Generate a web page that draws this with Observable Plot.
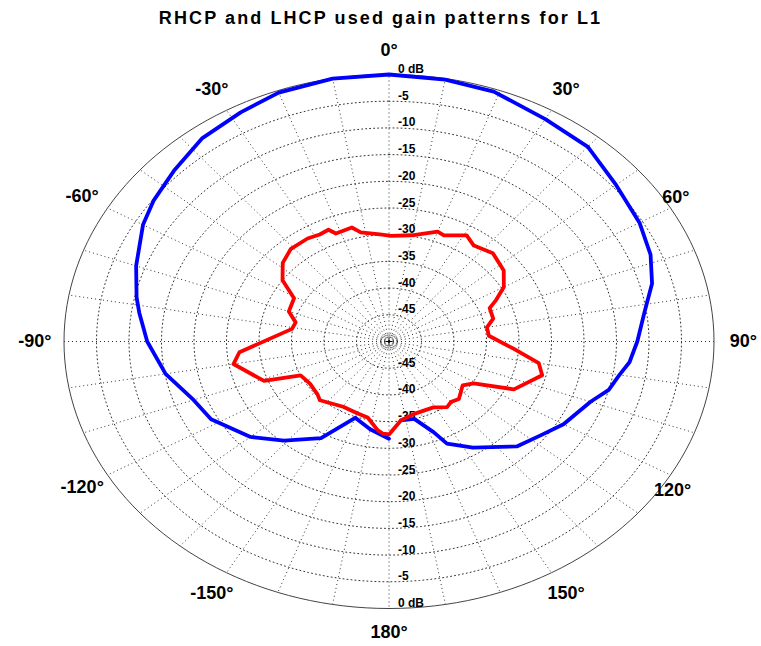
<!DOCTYPE html>
<html><head><meta charset="utf-8">
<script src="https://cdn.jsdelivr.net/npm/d3@7"></script>
<script src="https://cdn.jsdelivr.net/npm/@observablehq/plot@0.6"></script>
<style>
body{margin:0;background:#fff;}
#title{width:761px;height:34px;text-align:center;font:bold 18px Arial,"Liberation Sans",sans-serif;line-height:36px;letter-spacing:2.1px;color:#000;}
g[aria-label="angle labels"] text{letter-spacing:1.4px;}
</style></head><body>
<div id="title"></div>
<div id="chart"></div>
<script>
const chartTitle = "RHCP and LHCP used gain patterns for L1";
const ringDb = [0, -5, -10, -15, -20, -25, -30, -35, -40, -45];
const dbMin = -50;
const spokeAngles = [0,10,20,30,40,50,60,70,80,90,100,110,120,130,140,150,160,170,180,190,200,210,220,230,240,250,260,270,280,290,300,310,320,330,340,350];
const angleTicks = [0, 30, 60, 90, 120, 150, 180, -150, -120, -90, -60, -30];

// RHCP (blue)
const rhcpAngle = [-180,-170,-160,-150,-139,-130,-118,-110,-100,-90,-82,-78,-70,-60,-54,-46,-37,-28,-20,-10,0,10,19,30,40,50,60,68,75,82,90,96,100,105,110,120,127,135,147,155,158,165,173];
const rhcpDb = [-31.8,-33.3,-34.8,-29.1,-25.4,-22.2,-19.0,-18.0,-15.1,-12.8,-11.2,-10.3,-8.6,-6.3,-5.2,-4.0,-2.3,-1.4,-0.4,0,0,-0.2,-0.5,-1.9,-2.4,-4.4,-5.5,-6.6,-8.1,-10.3,-11.8,-12.8,-14.0,-15.0,-17.0,-19.0,-20.8,-22.2,-26.3,-28.9,-31.7,-35.0,-35.1];

// LHCP (red)
const lhcpAngle = [-180,-177,-174,-167,-160,-150,-136,-132,-123,-115,-111,-100,-95,-81,-76,-70,-61,-55,-48,-41,-33,-28,-24,-22,-15,-12,-4,1,10,20,23,31,36,44,53,60,65,68,75,80,86,94,100,105,115,121,126,135,140,144,151,164,173,179,180];
const lhcpDb = [-32.6,-32.7,-33.3,-35.4,-35.7,-35.9,-34.7,-35.2,-35.5,-35.0,-29.4,-25.7,-26.9,-34.9,-35.2,-33.6,-33.3,-30.0,-28.0,-27.0,-27.0,-27.3,-27.1,-28.2,-27.9,-29.1,-29.9,-30.2,-29.8,-28.1,-28.4,-26.8,-27.8,-27.0,-27.9,-29.6,-31.9,-33.3,-33.4,-34.7,-34.6,-30.8,-26.6,-25.6,-28.8,-34.8,-36.0,-34.8,-35.2,-34.8,-35.9,-35.9,-35.1,-33.0,-32.6];

document.getElementById("title").textContent = chartTitle;

const rad = a => a * Math.PI / 180;
const rho = db => (db - dbMin) / (0 - dbMin);
const px = (a, r) => r * Math.sin(rad(a));
const py = (a, r) => r * Math.cos(rad(a));
const labelR = a => (a === 60 || a === 120) ? 1.035 : 1.09;
const labelA = a => a === 60 ? 58.5 : a === 120 ? 122.5 : a;

const rhcp = rhcpAngle.map((a, i) => ({a, db: rhcpDb[i]}));
const lhcp = lhcpAngle.map((a, i) => ({a, db: lhcpDb[i]}));
const circleA = d3.range(0, 361, 2);
const innerRings = ringDb.filter(d => d < 0).flatMap(db => circleA.map(a => ({db, a})));
const outerRing = circleA.map(a => ({db: 0, a}));
const centerRing = circleA.map(a => ({db: dbMin + 1.2, a}));
const dbLabels = ringDb.flatMap(db => [{db, side: 1}, {db, side: -1}]);

const font = "Arial, 'Liberation Sans', sans-serif";
const plot = Plot.plot({
  width: 761, height: 612, margin: 0,
  x: {domain: [-1, 1], range: [63.5, 713.5], axis: null},
  y: {domain: [-1, 1], range: [574, 40], axis: null},
  style: {background: "#fff", overflow: "visible", fontFamily: font},
  marks: [
    Plot.link(spokeAngles, {x1: () => 0, y1: () => 0, x2: a => Math.sin(rad(a)), y2: a => Math.cos(rad(a)),
      stroke: "#333", strokeWidth: 1, strokeDasharray: "1,3"}),
    Plot.line(innerRings, {x: d => px(d.a, rho(d.db)), y: d => py(d.a, rho(d.db)), z: "db",
      stroke: "#333", strokeWidth: 1, strokeDasharray: "1,3"}),
    Plot.line(centerRing, {x: d => px(d.a, rho(d.db)), y: d => py(d.a, rho(d.db)),
      stroke: "#333", strokeWidth: 1, strokeDasharray: "1,1.5"}),
    Plot.dot([0], {x: () => 0, y: () => 0, symbol: "plus", r: 2.5, stroke: "#000", strokeWidth: 1}),
    Plot.line(outerRing, {x: d => px(d.a, rho(d.db)), y: d => py(d.a, rho(d.db)),
      stroke: "#444", strokeWidth: 1}),
    Plot.text(dbLabels, {x: () => 0, y: d => d.side * rho(d.db), text: d => d.db === 0 ? "0 dB" : String(d.db),
      dx: 9, dy: -1.5, textAnchor: "start", lineAnchor: "bottom", fontSize: 12, fontWeight: "bold", fill: "#000"}),
    Plot.line(rhcp, {x: d => px(d.a, rho(d.db)), y: d => py(d.a, rho(d.db)),
      stroke: "#0000ff", strokeWidth: 3.8, curve: "linear"}),
    Plot.line(lhcp, {x: d => px(d.a, rho(d.db)), y: d => py(d.a, rho(d.db)),
      stroke: "#ff0000", strokeWidth: 3.8, curve: "linear"}),
    Plot.text(angleTicks, {x: a => px(labelA(a), labelR(a)), y: a => py(labelA(a), labelR(a)), text: a => `${a}°`,
      fontSize: 18, fontWeight: "bold", fill: "#000", ariaLabel: "angle labels"})
  ]
});
document.getElementById("chart").appendChild(plot);
</script>
</body></html>
